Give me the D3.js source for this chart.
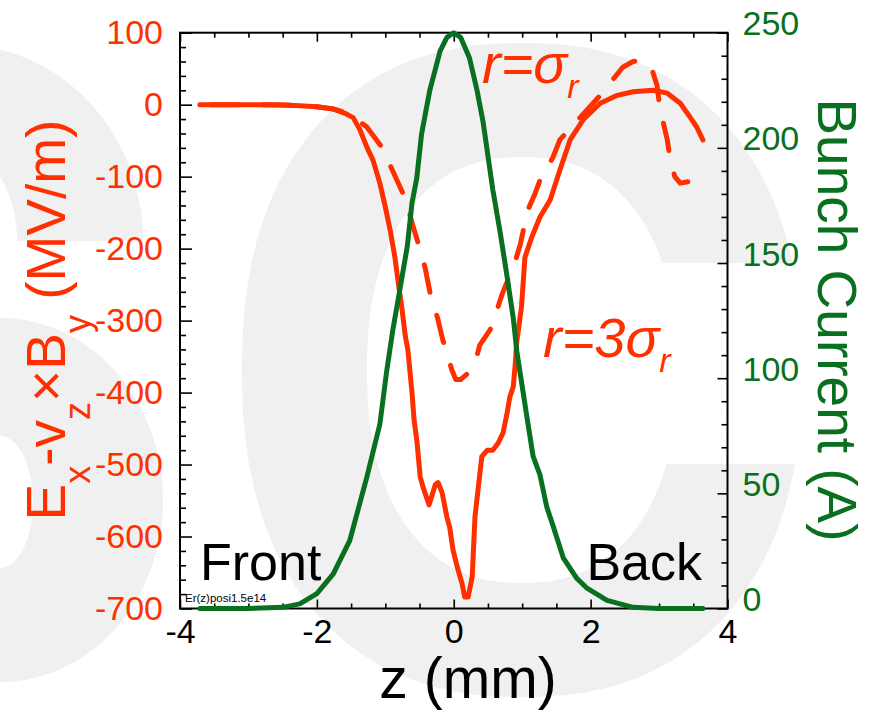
<!DOCTYPE html>
<html>
<head>
<meta charset="utf-8">
<script src="https://d3js.org/d3.v7.min.js"></script>
<style>
  body { margin: 0; background: #fff; }
  text { font-family: "Liberation Sans", Arial, Helvetica, sans-serif; }
</style>
</head>
<body>
<script>
// DATA
// r = 3 sigma_r (solid red)
const zSolid = [-3.71, -3.0, -2.5, -2.25, -2.0, -1.76, -1.59, -1.47, -1.37, -1.27, -1.18, -1.08, -1.00, -0.93, -0.86, -0.81, -0.76, -0.71, -0.67, -0.61, -0.58, -0.54, -0.49, -0.45, -0.36, -0.27, -0.23, -0.17, -0.10, -0.06, -0.01, 0.05, 0.12, 0.16, 0.21, 0.27, 0.31, 0.35, 0.41, 0.49, 0.57, 0.65, 0.72, 0.78, 0.82, 0.87, 0.90, 0.92, 0.99, 1.04, 1.14, 1.26, 1.41, 1.55, 1.70, 1.89, 2.14, 2.39, 2.62, 2.91, 3.12, 3.31, 3.45, 3.55, 3.64]
const vSolid = [0, 0, -0.5, -1.5, -3, -6, -12, -18, -35, -59, -77, -109, -142, -174, -212, -248, -281, -320, -341, -400, -438, -466, -517, -531, -556, -528, -525, -539, -573, -587, -619, -642, -665, -684, -684, -656, -573, -539, -489, -480, -480, -470, -456, -428, -406, -392, -359, -330, -281, -212, -184, -156, -132, -91, -49, -21, 2, 13, 18, 20, 16, 2, -17, -31, -49]
// r = sigma_r (dashed red)
const zDash = [-3.71, -3.0, -2.5, -2.25, -2.0, -1.76, -1.59, -1.47, -1.27, -1.05, -0.93, -0.71, -0.61, -0.49, -0.42, -0.32, -0.24, -0.16, -0.10, -0.03, 0.03, 0.10, 0.21, 0.31, 0.38, 0.53, 0.60, 0.70, 0.89, 0.97, 1.08, 1.19, 1.26, 1.45, 1.55, 1.92, 2.14, 2.47, 2.62, 2.75, 2.90, 2.97, 3.01, 3.12, 3.16, 3.23, 3.31, 3.42]
const vDash = [0, 0, -0.5, -1.5, -3, -6, -11, -17, -31, -59, -84, -130, -164, -202, -226, -274, -295, -327, -344, -368, -382, -382, -373, -359, -334, -313, -295, -265, -220, -195, -147, -123, -105, -73, -49, -10, 13, 52, 60, 62, 48, 27, -3, -49, -74, -100, -109, -107]
// bunch current (green, right axis)
const zCur = [-3.71, -3.0, -2.5, -2.25, -2.0, -1.76, -1.52, -1.27, -1.08, -0.98, -0.89, -0.79, -0.68, -0.61, -0.54, -0.47, -0.35, -0.20, -0.10, 0, 0.10, 0.23, 0.34, 0.43, 0.57, 0.68, 0.78, 0.87, 0.92, 1.07, 1.16, 1.26, 1.36, 1.45, 1.60, 1.80, 1.94, 2.24, 2.62, 3.0, 3.64]
const aCur = [0, 0, 0.5, 2, 6.5, 15, 29.5, 57, 80, 103, 121, 138, 157, 176, 187, 206, 225, 242, 248, 250, 248, 239, 225, 211, 182, 163, 144, 126, 112, 83, 66, 58, 44, 36, 22, 13, 9, 3.5, 0.5, 0, 0]

const xTicks = [-4, -2, 0, 2, 4]
const yLeftTicks = [-700, -600, -500, -400, -300, -200, -100, 0, 100]
const yRightTicks = [0, 50, 100, 150, 200, 250]

// VARIABLES
const W = 878, H = 712
const red = "#ff3000", green = "#08701e", wm = "#f0f0f0"
const pLeft = 180, pRight = 727.5, pTop = 32.7, pBottom = 608.5

const x = d3.scaleLinear().domain([-4, 4]).range([pLeft, pRight])
const yL = d3.scaleLinear().domain([-700, 100]).range([pBottom, pTop])
const yR = d3.scaleLinear().domain([0, 250]).range([pBottom, pTop])

const svg = d3.select("body").append("svg")
    .attr("width", W).attr("height", H)

// background watermark letters
const blob = (cx, cy, rx, ry, n) => {
    const pts = d3.range(0, 360, 2).map(a => {
        const t = a * Math.PI / 180, c = Math.cos(t), s = Math.sin(t)
        return [cx + rx * Math.sign(c) * Math.pow(Math.abs(c), 2 / n),
                cy + ry * Math.sign(s) * Math.pow(Math.abs(s), 2 / n)]
    })
    return "M" + pts.join("L") + "Z"
}
const defs = svg.append("defs")
const cClip = defs.append("clipPath").attr("id", "cclip")
cClip.append("rect").attr("x", 0).attr("y", 0).attr("width", W).attr("height", 263)
cClip.append("rect").attr("x", 0).attr("y", 464).attr("width", W).attr("height", H)
cClip.append("rect").attr("x", 0).attr("y", 0).attr("width", 522).attr("height", H)
defs.append("clipPath").attr("id", "sclip")
    .append("rect").attr("x", 0).attr("y", 0).attr("width", W).attr("height", 241)

const bg = svg.append("g").attr("fill", wm).attr("fill-rule", "evenodd")
bg.append("path").attr("clip-path", "url(#cclip)")
    .attr("d", blob(522, 370, 280, 327, 2.3) + blob(522, 370, 155, 213, 2.3))
bg.append("path").attr("clip-path", "url(#sclip)")
    .attr("d", blob(-40, 241, 183, 196, 2) + blob(-40, 241, 57, 90, 2))
bg.append("path")
    .attr("d", blob(0, 500, 163, 182, 2) + blob(0, 502, 33, 66, 2))

// AXES
const styleAxis = (g, color) => {
    g.select(".domain").remove()
    g.selectAll("line").attr("stroke", "#000").attr("stroke-width", 1.6)
    g.selectAll("text").attr("font-size", 34).attr("fill", color)
        .attr("font-family", "'Liberation Sans', Arial, Helvetica, sans-serif")
}
const minor = (all, major) => all.filter(v => !major.some(m => Math.abs(m - v) < 1e-9))

svg.append("g").attr("transform", `translate(0,${pBottom})`)
    .call(d3.axisBottom(x).tickValues(xTicks).tickSize(-9).tickSizeOuter(0).tickPadding(10).tickFormat(d => String(d)))
    .call(g => styleAxis(g, "#000"))
svg.append("g").attr("transform", `translate(0,${pBottom})`)
    .call(d3.axisBottom(x).tickValues(minor(d3.range(-4, 4.01, 0.5), xTicks)).tickSize(-5).tickSizeOuter(0).tickFormat(""))
    .call(g => styleAxis(g, "#000"))
svg.append("g").attr("transform", `translate(0,${pTop})`)
    .call(d3.axisTop(x).tickValues(xTicks).tickSize(-9).tickSizeOuter(0).tickFormat(""))
    .call(g => styleAxis(g, "#000"))
svg.append("g").attr("transform", `translate(0,${pTop})`)
    .call(d3.axisTop(x).tickValues(minor(d3.range(-4, 4.01, 0.5), xTicks)).tickSize(-5).tickSizeOuter(0).tickFormat(""))
    .call(g => styleAxis(g, "#000"))

svg.append("g").attr("transform", `translate(${pLeft},0)`)
    .call(d3.axisLeft(yL).tickValues(yLeftTicks).tickSize(-12).tickSizeOuter(0).tickPadding(17).tickFormat(d => String(d)))
    .call(g => styleAxis(g, red))
svg.append("g").attr("transform", `translate(${pLeft},0)`)
    .call(d3.axisLeft(yL).tickValues(minor(d3.range(-700, 101, 20), yLeftTicks)).tickSize(-6).tickSizeOuter(0).tickFormat(""))
    .call(g => styleAxis(g, red))

svg.append("g").attr("transform", `translate(${pRight},0)`)
    .call(d3.axisRight(yR).tickValues(yRightTicks).tickSize(-10).tickSizeOuter(0).tickPadding(15).tickFormat(d => String(d)))
    .call(g => styleAxis(g, green))
    .call(g => g.selectAll("text").attr("dy", 2))
svg.append("g").attr("transform", `translate(${pRight},0)`)
    .call(d3.axisRight(yR).tickValues(minor(d3.range(0, 251, 10), yRightTicks)).tickSize(-6).tickSizeOuter(0).tickFormat(""))
    .call(g => styleAxis(g, green))

svg.append("rect")
    .attr("x", pLeft).attr("y", pTop).attr("width", pRight - pLeft).attr("height", pBottom - pTop)
    .attr("fill", "none").attr("stroke", "#000").attr("stroke-width", 2)

// CURVES
const solidPts = zSolid.map((z, i) => [x(z), yL(vSolid[i])])
const dashPts = zDash.map((z, i) => [x(z), yL(vDash[i])])
const curPts = zCur.map((z, i) => [x(z), yR(aCur[i])])
const line = d3.line()

const curves = svg.append("g").attr("fill", "none")
    .attr("stroke-width", 5).attr("stroke-linejoin", "round").attr("stroke-linecap", "round")

curves.append("path").attr("d", line(solidPts)).attr("stroke", red)

const dashLen = 28, gapLen = 24, period = dashLen + gapLen
const dashed = curves.append("path").attr("d", line(dashPts)).attr("stroke", red)
    .attr("stroke-dasharray", `${dashLen},${gapLen}`)
// line the first visible dash up with the place it ends in the picture
const node = dashed.node()
const target = x(-1.05)
let lo = 0, hi = node.getTotalLength()
for (let k = 0; k < 40; k++) {
    const mid = (lo + hi) / 2
    if (node.getPointAtLength(mid).x < target) lo = mid; else hi = mid
}
const dashEnd = lo - 2.5
dashed.attr("stroke-dashoffset", (((dashLen - dashEnd) % period) + period) % period)

curves.append("path").attr("d", line(curPts)).attr("stroke", green)

// TEXT
const yTitle = svg.append("text")
    .attr("transform", "translate(65,320) rotate(-90)")
    .attr("text-anchor", "middle").attr("font-size", 55).attr("fill", red)
yTitle.append("tspan").text("E")
yTitle.append("tspan").attr("font-size", 36).attr("dy", 25).text("x")
yTitle.append("tspan").attr("dy", -25).text("-v")
yTitle.append("tspan").attr("font-size", 36).attr("dy", 25).text("z")
yTitle.append("tspan").attr("dy", -25).text("\u00d7B")
yTitle.append("tspan").attr("font-size", 36).attr("dy", 25).text("y")
yTitle.append("tspan").attr("dy", -25).text("\u00a0(MV/m)")

svg.append("text")
    .attr("transform", "translate(818,320) rotate(90)")
    .attr("text-anchor", "middle").attr("font-size", 55).attr("fill", green)
    .text("Bunch Current (A)")

svg.append("text").attr("x", 468).attr("y", 698)
    .attr("text-anchor", "middle").attr("font-size", 57).attr("fill", "#000")
    .text("z (mm)")

const rLabel = (px, py, main) => {
    const t = svg.append("text").attr("x", px).attr("y", py)
        .attr("font-size", 56).attr("font-style", "italic").attr("fill", red)
    t.append("tspan").text(main)
    t.append("tspan").attr("font-size", 34).attr("dy", 15).text("r")
}
rLabel(482, 83, "r=\u03c3")
rLabel(543, 357, "r=3\u03c3")

svg.append("text").attr("x", 200).attr("y", 580)
    .attr("font-size", 52).attr("fill", "#000").text("Front")
svg.append("text").attr("x", 702).attr("y", 580).attr("text-anchor", "end")
    .attr("font-size", 52).attr("fill", "#000").text("Back")
svg.append("text").attr("x", 185).attr("y", 602)
    .attr("font-size", 11.5).attr("fill", "#000").text("Er(z)posi1.5e14")
</script>
</body>
</html>
